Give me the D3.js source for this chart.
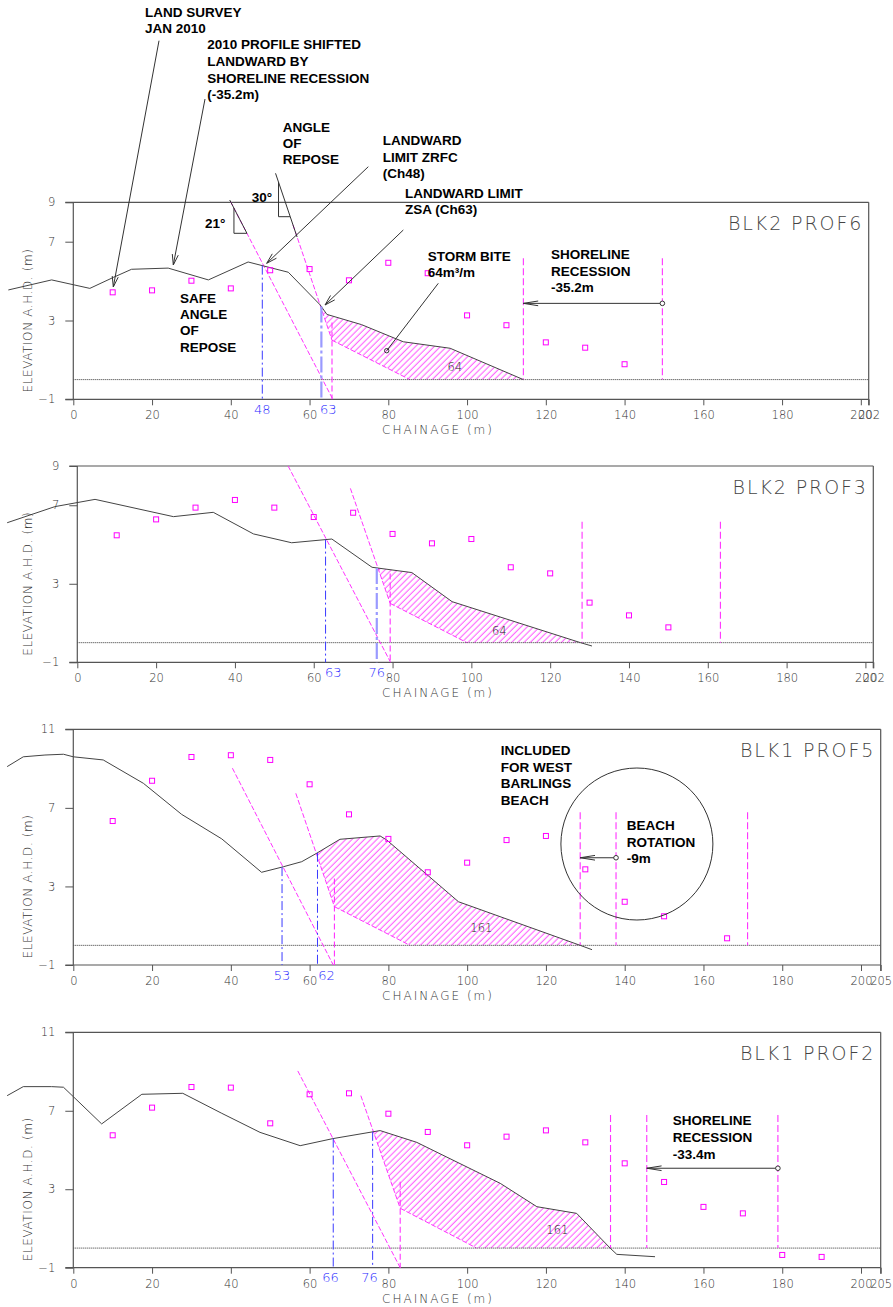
<!DOCTYPE html>
<html>
<head>
<meta charset="utf-8">
<script src="https://cdn.jsdelivr.net/npm/d3@7"></script>
<style>
    body { margin: 0; background: #fff; }
    svg { display: block; }
    .ann { font-family: "Liberation Sans", Arial, sans-serif; font-weight: bold; font-size: 13.5px; fill: #000; }
    .axis text { font-family: "DejaVu Sans", sans-serif; font-weight: 200; font-size: 11.5px; fill: #333; }
    .axis line { stroke: #555; }
    .axlabel { font-family: "DejaVu Sans", sans-serif; font-weight: 200; font-size: 12px; fill: #333; }
    .title { font-family: "DejaVu Sans", sans-serif; font-weight: 200; font-size: 19px; fill: #444; letter-spacing: 1.9px; }
    .vol { font-family: "DejaVu Sans", sans-serif; font-weight: 200; font-size: 11.5px; fill: #222; }
    .lim { font-family: "DejaVu Sans", sans-serif; font-weight: 200; font-size: 13px; fill: #2a2aff; }
</style>
</head>
<body>
<svg id="chart" width="893" height="1307"></svg>
<script>
// ---------- data (chainage m, elevation m AHD) ----------
const sectionNames = ["BLK2 PROF6", "BLK2 PROF3", "BLK1 PROF5", "BLK1 PROF2"];
const xMaxes = [202, 202, 205, 205];
const yDomains = [[-1, 9], [-1, 9], [-1, 11], [-1, 11]];
const xTicks = [0, 20, 40, 60, 80, 100, 120, 140, 160, 180, 200];
const yTicksLow = [-1, 3, 7, 9];
const yTicksHigh = [-1, 3, 7, 11];

// 2010 land survey (black line)
const prof6Survey = [[-16.5, 4.55], [-5.5, 5.06], [4.2, 4.63], [10.2, 5.19], [14.8, 5.6], [24.1, 5.66], [34.3, 5.06],
    [44.4, 5.97], [48.3, 5.77], [54.6, 5.45], [62.7, 3.79], [64.4, 3.31], [73.2, 2.79], [83.8, 1.92], [95.7, 1.59], [114.3, 0]];
const prof3Survey = [[-17.8, 6.11], [-5.7, 6.93], [4.5, 7.3], [24.4, 6.42], [34.5, 6.64], [44.7, 5.54], [54.4, 5.09],
    [64.6, 5.28], [74.8, 3.84], [84.9, 3.57], [95.1, 2.09], [127.7, 0], [130.6, -0.17]];
const prof5Survey = [[-16.8, 9.1], [-12.7, 9.6], [-7.2, 9.69], [-2.5, 9.73], [0, 9.6], [7.6, 9.44], [17.8, 8.25],
    [27.5, 6.67], [37.7, 5.42], [47.8, 3.72], [53.3, 4.0], [58, 4.26], [61.8, 4.69], [67.7, 5.4], [77.9, 5.57],
    [79.6, 5.36], [97.8, 2.22], [128.7, 0], [131.7, -0.22]];
const prof2Survey = [[-16.8, 7.77], [-12.7, 8.23], [-5.5, 8.23], [-2.5, 8.2], [0, 7.72], [7.2, 6.33], [17.4, 7.84],
    [27.8, 7.89], [37.7, 6.87], [47.4, 5.9], [57.6, 5.22], [65.9, 5.58], [77.9, 5.99], [87.2, 5.39], [108.4, 3.3],
    [117.7, 2.11], [127.8, 1.77], [136.3, 0], [138, -0.32], [147.7, -0.44]];

// older survey points (magenta squares)
const prof6PtX = [10, 20, 30, 40, 50, 60, 70, 80, 90, 100, 110, 120, 130, 140];
const prof6PtY = [4.43, 4.53, 5.02, 4.63, 5.55, 5.61, 5.04, 5.93, 5.4, 3.26, 2.76, 1.89, 1.62, 0.78];
const prof3PtX = [10, 20, 30, 40, 50, 60, 70, 80, 90, 100, 110, 120, 130, 140, 150];
const prof3PtY = [5.47, 6.28, 6.88, 7.27, 6.88, 6.4, 6.62, 5.54, 5.06, 5.28, 3.84, 3.53, 2.04, 1.39, 0.78];
const prof5PtX = [10, 20, 30, 40, 50, 60, 70, 80, 90, 100, 110, 120, 130, 140, 150, 166];
const prof5PtY = [6.33, 8.38, 9.59, 9.68, 9.44, 8.2, 6.67, 5.42, 3.72, 4.21, 5.36, 5.57, 3.87, 2.22, 1.48, 0.36];
const prof2PtX = [10, 20, 30, 40, 50, 60, 70, 80, 90, 100, 110, 120, 130, 140, 150, 160, 170, 180, 190];
const prof2PtY = [5.75, 7.16, 8.21, 8.18, 6.36, 7.84, 7.89, 6.85, 5.92, 5.24, 5.68, 6.0, 5.39, 4.32, 3.37, 2.1, 1.77, -0.35, -0.45];

// safe angle (21°) and angle of repose (30°) lines
const prof6Safe = [[39.9, 9.05], [65.9, -1]];
const prof3Safe = [[53.5, 9.0], [79.5, -1]];
const prof5Safe = [[40.4, 9.02], [66.0, -1]];
const prof2Safe = [[57.0, 9.03], [83.0, -1]];
const prof6Repose = [[55.8, 7.85], [65.7, 2.0]];
const prof3Repose = [[69.3, 7.86], [79.4, 2.0]];
const prof5Repose = [[56.5, 7.74], [66.3, 1.97]];
const prof2Repose = [[73.0, 7.77], [83.0, 2.03]];

// storm bite toe line and vertical marker [chainage, top elevation]
const prof6Toe = [[65.7, 2.0], [85.5, 0]];
const prof3Toe = [[79.4, 2.0], [98.9, 0]];
const prof5Toe = [[66.3, 1.97], [85.5, 0]];
const prof2Toe = [[83.0, 2.03], [102.4, 0]];
const biteMarks = [[65.7, 2.9], [79.4, 3.53], [66.3, 3.4], [83.0, 3.38]];

// landward limits (blue)
const prof6Limits = [48, 63];
const prof3Limits = [63, 76];
const prof5Limits = [53, 62];
const prof2Limits = [66, 76];

// shoreline recession / rotation verticals
const prof6Recess = [114.3, 149.6];
const prof3Recess = [128.1, 163.2];
const prof5Recess = [128.7, 137.8, 171.2];
const prof2Recess = [136.4, 145.6, 178.9];
const recessTops = [6.16, 6.16, 6.78, 6.79];
// arrows [from, to, elevation]
const recessArrows = [[149.6, 114.3, 3.87], null, [137.8, 128.7, 4.46], [178.9, 145.6, 4.07]];

// storm bite volume (m³/m)
const biteVolumes = ["64", "64", "161", "161"];
const volumeSpots = [[96.9, 0.64], [107.1, 0.61], [103.6, 0.9], [122.9, 0.92]];

// ---------- layout ----------
const frames = [
    {left: 73.3, right: 868.7, top: 202.3, bottom: 399.3},
    {left: 77.3, right: 873.3, top: 466, bottom: 662.3},
    {left: 73.3, right: 880.7, top: 729.3, bottom: 965},
    {left: 73.3, right: 880.7, top: 1032.3, bottom: 1267.7}
];
const limitNudges = [[0, 7], [7.6, 0], [0, 9], [-2.7, -3]];
const wideSecondLimit = [true, true, false, false];

const sections = [
    {survey: prof6Survey, ptX: prof6PtX, ptY: prof6PtY, safe: prof6Safe, repose: prof6Repose, toe: prof6Toe, limits: prof6Limits, recess: prof6Recess},
    {survey: prof3Survey, ptX: prof3PtX, ptY: prof3PtY, safe: prof3Safe, repose: prof3Repose, toe: prof3Toe, limits: prof3Limits, recess: prof3Recess},
    {survey: prof5Survey, ptX: prof5PtX, ptY: prof5PtY, safe: prof5Safe, repose: prof5Repose, toe: prof5Toe, limits: prof5Limits, recess: prof5Recess},
    {survey: prof2Survey, ptX: prof2PtX, ptY: prof2PtY, safe: prof2Safe, repose: prof2Repose, toe: prof2Toe, limits: prof2Limits, recess: prof2Recess}
].map((s, i) => Object.assign(s, {
    i: i, name: sectionNames[i], xMax: xMaxes[i], yDomain: yDomains[i], frame: frames[i],
    yTicks: i < 2 ? yTicksLow : yTicksHigh, bite: biteMarks[i], recessTop: recessTops[i],
    arrow: recessArrows[i], volume: biteVolumes[i], volumeAt: volumeSpots[i]
}));

const MAGENTA = '#ff33ff';
const svg = d3.select('#chart');

svg.append('defs').append('pattern')
    .attr('id', 'hatch')
    .attr('patternUnits', 'userSpaceOnUse')
    .attr('width', 4.4).attr('height', 4.4)
    .attr('patternTransform', 'rotate(45)')
    .append('line')
    .attr('x1', 2).attr('y1', 0).attr('x2', 2).attr('y2', 4.4)
    .attr('stroke', MAGENTA).attr('stroke-width', 0.85);

// helpers
function segIntersect(a, b, c, d) {
    const den = (b[0] - a[0]) * (d[1] - c[1]) - (b[1] - a[1]) * (d[0] - c[0]);
    if (den === 0) return null;
    const t = ((c[0] - a[0]) * (d[1] - c[1]) - (c[1] - a[1]) * (d[0] - c[0])) / den;
    const u = ((c[0] - a[0]) * (b[1] - a[1]) - (c[1] - a[1]) * (b[0] - a[0])) / den;
    if (t < 0 || t > 1 || u < 0 || u > 1) return null;
    return [a[0] + t * (b[0] - a[0]), a[1] + t * (b[1] - a[1])];
}
function crossProfile(line, profile) {
    for (let k = 0; k < profile.length - 1; k++) {
        const p = segIntersect(line[0], line[1], profile[k], profile[k + 1]);
        if (p) return p;
    }
    return null;
}
function surveyAt(profile, ch) {
    for (let k = 0; k < profile.length - 1; k++) {
        const a = profile[k], b = profile[k + 1];
        if (ch >= a[0] && ch <= b[0]) return a[1] + (b[1] - a[1]) * (ch - a[0]) / (b[0] - a[0]);
    }
    return null;
}
function arrowHead(g, tip, from, len, half) {
    const ang = Math.atan2(from[1] - tip[1], from[0] - tip[0]);
    [-half, half].forEach(h => {
        const a = ang + h * Math.PI / 180;
        g.append('line')
            .attr('x1', tip[0]).attr('y1', tip[1])
            .attr('x2', tip[0] + len * Math.cos(a)).attr('y2', tip[1] + len * Math.sin(a))
            .attr('stroke', '#333').attr('stroke-width', 1);
    });
}
function leader(g, from, tip, head) {
    g.append('line')
        .attr('x1', from[0]).attr('y1', from[1]).attr('x2', tip[0]).attr('y2', tip[1])
        .attr('stroke', '#333').attr('stroke-width', 1);
    if (head) arrowHead(g, tip, from, 11, 16);
}
function textBlock(g, lines, x, y0, step) {
    const t = g.append('text').attr('class', 'ann');
    lines.forEach((l, k) => t.append('tspan').attr('x', x).attr('y', y0 + k * step).text(l));
}

function drawSection(s) {
    const f = s.frame;
    const x = d3.scaleLinear().domain([0, s.xMax]).range([f.left, f.right]);
    const y = d3.scaleLinear().domain(s.yDomain).range([f.bottom, f.top]);
    const g = svg.append('g');
    const line = d3.line().x(d => x(d[0])).y(d => y(d[1]));

    // storm bite hatch: from the 30° line along the survey down to 0 m, back along the toe line
    const top = crossProfile(s.repose, s.survey);
    const zeroX = s.survey.reduce((acc, d, k) => {
        if (acc !== null || k === 0) return acc;
        const a = s.survey[k - 1];
        if (a[0] > top[0] && a[1] > 0 && d[1] <= 0) return a[0] + (d[0] - a[0]) * a[1] / (a[1] - d[1]);
        return null;
    }, null);
    const poly = [top].concat(s.survey.filter(d => d[0] > top[0] && d[0] < zeroX), [[zeroX, 0], s.toe[1], s.toe[0]]);
    g.append('path')
        .attr('d', line(poly) + 'Z')
        .attr('fill', 'url(#hatch)')
        .attr('stroke', 'none');
    g.append('path')
        .attr('d', line(s.toe))
        .attr('fill', 'none').attr('stroke', MAGENTA).attr('stroke-width', 1).attr('stroke-dasharray', '5,2');

    // zero line
    g.append('line')
        .attr('x1', x(0)).attr('x2', f.right).attr('y1', y(0)).attr('y2', y(0))
        .attr('stroke', '#333').attr('stroke-width', 1).attr('stroke-dasharray', '1,1');

    // frame and axes
    g.append('g').attr('class', 'axis')
        .attr('transform', `translate(0, ${f.bottom})`)
        .call(d3.axisBottom(x).tickValues(xTicks.concat([s.xMax])).tickSize(6).tickPadding(6).tickFormat(d3.format('d')))
        .call(a => a.select('.domain').remove());
    g.append('g').attr('class', 'axis')
        .attr('transform', `translate(${f.left}, 0)`)
        .call(d3.axisLeft(y).tickValues(s.yTicks).tickSize(8).tickPadding(10))
        .call(a => a.select('.domain').remove());
    [[f.left - 8, f.top, f.right, f.top], [f.left - 8, f.bottom, f.right, f.bottom],
        [f.left, f.top, f.left, f.bottom], [f.right, f.top, f.right, f.bottom + 6]].forEach(c => {
        g.append('line').attr('x1', c[0]).attr('y1', c[1]).attr('x2', c[2]).attr('y2', c[3])
            .attr('stroke', '#555').attr('stroke-width', 1.2);
    });

    // slope lines
    [s.safe, s.repose].forEach(l => {
        g.append('path').attr('d', line(l))
            .attr('fill', 'none').attr('stroke', MAGENTA).attr('stroke-width', 1).attr('stroke-dasharray', '5,2');
    });
    // bite vertical
    g.append('line')
        .attr('x1', x(s.bite[0])).attr('x2', x(s.bite[0]))
        .attr('y1', y(s.bite[1])).attr('y2', f.bottom)
        .attr('stroke', MAGENTA).attr('stroke-width', 1.1).attr('stroke-dasharray', '6,3');

    // recession verticals
    s.recess.forEach(r => {
        g.append('line')
            .attr('x1', x(r)).attr('x2', x(r)).attr('y1', y(s.recessTop)).attr('y2', y(0))
            .attr('stroke', MAGENTA).attr('stroke-width', 1.1).attr('stroke-dasharray', '7,3');
    });

    // survey line
    g.append('path').attr('d', line(s.survey))
        .attr('fill', 'none').attr('stroke', '#444').attr('stroke-width', 1);

    // landward limits
    s.limits.forEach((ch, k) => {
        const wide = k === 1 && wideSecondLimit[s.i];
        g.append('line')
            .attr('x1', x(ch)).attr('x2', x(ch)).attr('y1', y(surveyAt(s.survey, ch))).attr('y2', f.bottom)
            .attr('stroke', wide ? '#9a9aff' : '#3b3bff')
            .attr('stroke-width', wide ? 2.2 : 1)
            .attr('stroke-dasharray', wide ? '16,3,3,3' : '9,3,2,3');
        g.append('text').attr('class', 'lim')
            .attr('x', x(ch) + limitNudges[s.i][k]).attr('y', f.bottom + 10)
            .attr('dy', '0.36em').attr('text-anchor', 'middle')
            .text(ch);
    });

    // old survey squares
    g.selectAll('rect.pt')
        .data(s.ptX.map((d, k) => [d, s.ptY[k]]))
        .join('rect')
        .attr('class', 'pt')
        .attr('x', d => x(d[0]) - 2.5).attr('y', d => y(d[1]) - 2.5)
        .attr('width', 5).attr('height', 5)
        .attr('fill', 'none').attr('stroke', '#ff00ff').attr('stroke-width', 1);

    // bite volume
    g.append('text').attr('class', 'vol')
        .attr('x', x(s.volumeAt[0])).attr('y', y(s.volumeAt[1]))
        .attr('dy', '0.35em').attr('text-anchor', 'middle')
        .text(s.volume);

    // recession arrow
    if (s.arrow) {
        const from = [x(s.arrow[0]), y(s.arrow[2])], to = [x(s.arrow[1]), y(s.arrow[2])];
        g.append('line').attr('x1', from[0]).attr('y1', from[1]).attr('x2', to[0]).attr('y2', to[1])
            .attr('stroke', '#333').attr('stroke-width', 1);
        arrowHead(g, to, from, 15, 9);
        g.append('circle').attr('cx', from[0]).attr('cy', from[1]).attr('r', 2.3)
            .attr('fill', '#fff').attr('stroke', '#333').attr('stroke-width', 1);
    }

    // title & axis titles
    g.append('text').attr('class', 'title')
        .attr('x', f.right - 140.7).attr('y', f.top + 27.7)
        .text(s.name);
    g.append('text').attr('class', 'axlabel')
        .attr('transform', `translate(32, ${y(3)}) rotate(-90)`)
        .attr('text-anchor', 'middle')
        .style('letter-spacing', '0.6px')
        .text('ELEVATION A.H.D. (m)');
    g.append('text').attr('class', 'axlabel')
        .attr('x', 438).attr('y', f.bottom + 35)
        .attr('text-anchor', 'middle')
        .style('letter-spacing', '2px')
        .text('CHAINAGE (m)');

    return {x: x, y: y, g: g};
}

const drawn = sections.map(drawSection);

// ---------- annotations ----------
const a1 = drawn[0];
const ag = svg.append('g');

textBlock(ag, ['LAND SURVEY', 'JAN 2010'], 145, 17.3, 16);
leader(ag, [159, 40.7], [113.3, 287], true);

textBlock(ag, ['2010 PROFILE SHIFTED', 'LANDWARD BY', 'SHORELINE RECESSION', '(-35.2m)'], 207.3, 49.3, 16.6);
leader(ag, [205, 99], [173.3, 265], true);

textBlock(ag, ['ANGLE', 'OF', 'REPOSE'], 282.7, 131.5, 16.3);
textBlock(ag, ['LANDWARD', 'LIMIT ZRFC', '(Ch48)'], 382.7, 145, 16.7);
leader(ag, [368.3, 166.7], [266.7, 263.3], true);
textBlock(ag, ['LANDWARD LIMIT', 'ZSA (Ch63)'], 405, 197.5, 16.7);
leader(ag, [403.3, 230], [325, 305], true);

textBlock(ag, ['SAFE', 'ANGLE', 'OF', 'REPOSE'], 180, 302.5, 16.4);
textBlock(ag, ['STORM BITE', '64m³/m'], 427.7, 260.5, 16);
leader(ag, [438.3, 283.3], [386.7, 350.7], false);
ag.append('circle').attr('cx', 386.7).attr('cy', 350.7).attr('r', 2.2)
    .attr('fill', 'none').attr('stroke', '#333');
textBlock(ag, ['SHORELINE', 'RECESSION', '-35.2m'], 551, 258.8, 16.8);

// angle markers on the 21° and 30° lines
function lineXatPx(l, py) {
    const p0 = [a1.x(l[0][0]), a1.y(l[0][1])], p1 = [a1.x(l[1][0]), a1.y(l[1][1])];
    return p0[0] + (p1[0] - p0[0]) * (py - p0[1]) / (p1[1] - p0[1]);
}
function lineYatPx(l, px) {
    const p0 = [a1.x(l[0][0]), a1.y(l[0][1])], p1 = [a1.x(l[1][0]), a1.y(l[1][1])];
    return p0[1] + (p1[1] - p0[1]) * (px - p0[0]) / (p1[0] - p0[0]);
}
function angleMark(l, hy, w, yTop) {
    const xr = lineXatPx(l, hy), xl = xr - w;
    ag.append('path')
        .attr('d', `M${xl},${lineYatPx(l, xl)}L${xl},${hy}L${xr},${hy}`)
        .attr('fill', 'none').attr('stroke', '#333').attr('stroke-width', 1);
    ag.append('line')
        .attr('x1', lineXatPx(l, yTop)).attr('y1', yTop)
        .attr('x2', xr).attr('y2', hy)
        .attr('stroke', '#333').attr('stroke-width', 1);
}
angleMark(prof6Safe, 233.3, 13, 200);
angleMark(prof6Repose, 216.7, 11.7, 173.3);
ag.append('line')
    .attr('x1', lineXatPx(prof6Repose, 216.7)).attr('y1', 216.7)
    .attr('x2', lineXatPx(prof6Repose, 237)).attr('y2', 237)
    .attr('stroke', '#333').attr('stroke-width', 1);
ag.append('text').attr('class', 'ann').attr('x', 205).attr('y', 227.5).text('21°');
ag.append('text').attr('class', 'ann').attr('x', 251.7).attr('y', 201.5).text('30°');

// section 3 beach rotation note
const a3 = drawn[2];
textBlock(ag, ['INCLUDED', 'FOR WEST', 'BARLINGS', 'BEACH'], 500.7, 754.8, 16.7);
ag.append('circle')
    .attr('cx', a3.x(143.1)).attr('cy', a3.y(5.16)).attr('r', 76)
    .attr('fill', 'none').attr('stroke', '#333').attr('stroke-width', 1);
textBlock(ag, ['BEACH', 'ROTATION', '-9m'], 626.7, 829.8, 16.7);

// section 4 recession note
textBlock(ag, ['SHORELINE', 'RECESSION', '-33.4m'], 672.7, 1124.8, 16.9);
</script>
</body>
</html>
